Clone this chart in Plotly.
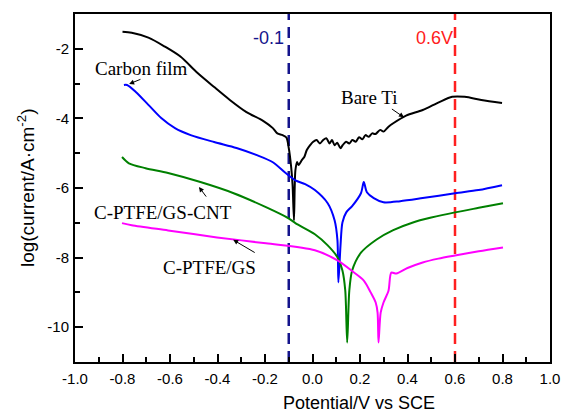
import plotly.graph_objects as go

# ---------------- data ----------------
bare_ti_x = [-0.800, -0.761, -0.691, -0.621, -0.555, -0.485, -0.414, -0.348, -0.278, -0.208,
             -0.167, -0.148, -0.126, -0.110, -0.100, -0.090, -0.084, -0.078, -0.075, -0.072,
             -0.065, -0.059, -0.045, -0.034, -0.024, -0.010, 0.003, 0.017, 0.031, 0.045,
             0.058, 0.072, 0.082, 0.093, 0.104, 0.118, 0.127, 0.141, 0.155, 0.168,
             0.182, 0.196, 0.210, 0.223, 0.237, 0.251, 0.265, 0.285, 0.299, 0.320,
             0.340, 0.394, 0.464, 0.534, 0.588, 0.641, 0.711, 0.798]
bare_ti_y = [-1.51, -1.54, -1.68, -1.94, -2.23, -2.69, -3.10, -3.47, -3.82, -4.07,
             -4.28, -4.43, -4.48, -4.55, -4.85, -5.39, -5.90, -6.93, -6.00, -5.49,
             -5.25, -5.34, -5.20, -5.10, -4.91, -4.77, -4.67, -4.62, -4.72, -4.62,
             -4.57, -4.72, -4.62, -4.77, -4.70, -4.86, -4.77, -4.67, -4.72, -4.62,
             -4.67, -4.54, -4.60, -4.48, -4.53, -4.43, -4.45, -4.33, -4.38, -4.24,
             -4.14, -3.92, -3.76, -3.53, -3.38, -3.38, -3.47, -3.56]

carbon_x = [-0.794, -0.781, -0.744, -0.691, -0.637, -0.579, -0.513, -0.414, -0.320, -0.237,
            -0.167, -0.113, -0.072, -0.031, 0.010, 0.064, 0.093, 0.105, 0.109, 0.118,
            0.126, 0.142, 0.167, 0.204, 0.216, 0.229, 0.258, 0.299, 0.369, 0.464,
            0.600, 0.699, 0.798]
carbon_y = [-3.04, -3.04, -3.24, -3.61, -3.99, -4.28, -4.48, -4.68, -4.85, -5.05,
            -5.26, -5.57, -5.78, -5.89, -6.06, -6.44, -6.93, -7.50, -8.71, -7.65,
            -6.99, -6.70, -6.52, -6.15, -5.83, -6.12, -6.29, -6.41, -6.38, -6.29,
            -6.15, -6.06, -5.92]

cnt_x = [-0.802, -0.773, -0.703, -0.608, -0.472, -0.332, -0.196, -0.101, -0.072, 0.010,
         0.064, 0.105, 0.126, 0.138, 0.146, 0.155, 0.167, 0.204, 0.270, 0.340,
         0.423, 0.500, 0.600, 0.700, 0.802]
cnt_y = [-5.11, -5.29, -5.43, -5.57, -5.83, -6.15, -6.55, -6.87, -7.01, -7.33,
         -7.65, -7.99, -8.37, -8.95, -10.44, -8.95, -8.37, -7.86, -7.48, -7.21,
         -6.99, -6.85, -6.70, -6.57, -6.44]

gs_x = [-0.802, -0.761, -0.608, -0.402, -0.196, 0.010, 0.105, 0.175, 0.216, 0.245,
        0.266, 0.274, 0.278, 0.287, 0.299, 0.320, 0.332, 0.353, 0.400, 0.464, 0.530,
        0.600, 0.700, 0.802]
gs_y = [-7.01, -7.07, -7.22, -7.42, -7.59, -7.79, -8.08, -8.43, -8.66, -9.00,
        -9.29, -9.58, -10.44, -9.58, -9.29, -8.95, -8.43, -8.46, -8.30, -8.14, -8.03,
        -7.94, -7.82, -7.71]

marker_potentials = [-0.1, 0.6]
marker_texts = ["-0.1", "0.6V"]

x_tickvals = [-1.0, -0.8, -0.6, -0.4, -0.2, 0.0, 0.2, 0.4, 0.6, 0.8, 1.0]
x_ticktext = ["-1.0", "-0.8", "-0.6", "-0.4", "-0.2", "0.0", "0.2", "0.4", "0.6", "0.8", "1.0"]
y_tickvals = [-10, -8, -6, -4, -2]
y_ticktext = ["-10", "-8", "-6", "-4", "-2"]

# ---------------- figure ----------------
SANS = "Liberation Sans, Arial, sans-serif"
SERIF = "Liberation Serif, Times New Roman, serif"

fig = go.Figure()

marker_colors = ["#14148c", "#ff2020"]
for xv, col in zip(marker_potentials, marker_colors):
    fig.add_trace(go.Scatter(x=[xv, xv], y=[-11, -1], mode="lines",
                             line=dict(color=col, width=2.5, dash="11px,7px"),
                             hoverinfo="skip", showlegend=False))

series = [
    (bare_ti_x, bare_ti_y, "#000000"),
    (carbon_x, carbon_y, "#0000ff"),
    (cnt_x, cnt_y, "#008000"),
    (gs_x, gs_y, "#ff00ff"),
]
for xs, ys, col in series:
    fig.add_trace(go.Scatter(x=xs, y=ys, mode="lines",
                             line=dict(color=col, width=2, shape="spline", smoothing=0.8),
                             showlegend=False))

# vertical marker labels
fig.add_annotation(x=-0.1, y=-1.7, xref="x", yref="y", text=marker_texts[0],
                   showarrow=False, xanchor="right", xshift=-3,
                   font=dict(family=SANS, size=18, color=marker_colors[0]))
fig.add_annotation(x=0.6, y=-1.7, xref="x", yref="y", text=marker_texts[1],
                   showarrow=False, xanchor="right", xshift=0,
                   font=dict(family=SANS, size=18, color=marker_colors[1]))

# curve labels with arrows
labels = [
    ("Carbon film", -0.720, -2.58, -0.772, -3.01, -0.718, -2.86),
    ("Bare Ti", 0.241, -3.41, 0.385, -3.97, 0.328, -3.70),
    ("C-PTFE/GS-CNT", -0.629, -6.70, -0.478, -5.97, -0.443, -6.29),
    ("C-PTFE/GS", -0.435, -8.28, -0.334, -7.49, -0.237, -7.88),
]
for txt, tx, ty, hx, hy, tlx, tly in labels:
    fig.add_annotation(x=tx, y=ty, xref="x", yref="y", text=txt, showarrow=False,
                       font=dict(family=SERIF, size=19, color="#000000"))
    fig.add_annotation(x=hx, y=hy, ax=tlx, ay=tly, xref="x", yref="y",
                       axref="x", ayref="y", text="", showarrow=True,
                       arrowhead=2, arrowsize=1, arrowwidth=1, arrowcolor="#000000")

# axis titles
fig.add_annotation(x=0.5, y=-0.118, xref="paper", yref="paper",
                   text="Potential/V vs SCE", showarrow=False, xshift=46,
                   yanchor="middle",
                   font=dict(family=SANS, size=18, color="#000000"))
fig.add_annotation(x=-0.103, y=0.5, xref="paper", yref="paper",
                   text="log(current/A·cm<sup>-2</sup>)", showarrow=False,
                   textangle=-90, xanchor="center", yanchor="middle",
                   font=dict(family=SANS, size=19, color="#000000"))

axis_common = dict(showline=True, linewidth=2, linecolor="#000000", mirror=True,
                   showgrid=False, zeroline=False, ticks="inside", ticklen=8,
                   tickwidth=2, tickcolor="#000000",
                   tickfont=dict(family=SANS, size=15, color="#000000"))

fig.update_xaxes(range=[-1, 1], tickmode="array", tickvals=x_tickvals,
                 ticktext=x_ticktext, ticklabelstandoff=2,
                 minor=dict(ticks="inside", ticklen=5, tickwidth=2, tickcolor="#000000",
                            tick0=-1, dtick=0.1),
                 **axis_common)
fig.update_yaxes(range=[-11, -1], tickmode="array", tickvals=y_tickvals,
                 ticktext=y_ticktext, ticklabelstandoff=1,
                 minor=dict(ticks="inside", ticklen=5, tickwidth=2, tickcolor="#000000",
                            tick0=-11, dtick=1),
                 **axis_common)

fig.update_layout(width=572, height=414,
                  margin=dict(l=75, r=12, t=14, b=52),
                  paper_bgcolor="#ffffff", plot_bgcolor="#ffffff",
                  showlegend=False)

fig.write_html("out.html")
